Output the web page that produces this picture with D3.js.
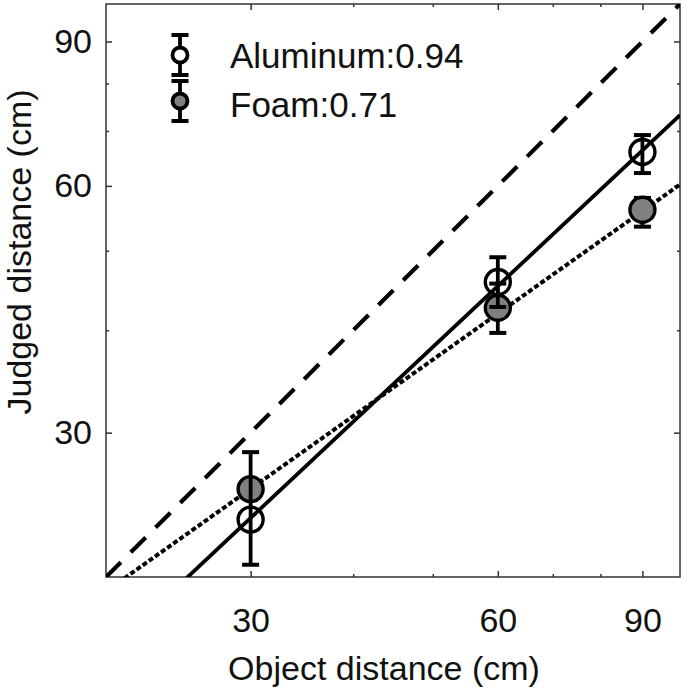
<!DOCTYPE html>
<html>
<head>
<meta charset="utf-8">
<script src="https://cdn.jsdelivr.net/npm/d3@7"></script>
<style>
  body { margin: 0; background: #fff; }
  text { font-family: "Liberation Sans", Arial, sans-serif; fill: #111; }
</style>
</head>
<body>
<script>
// Data
var objectDistance = [30, 60, 90];
var aluminumMean = [23.5, 45.8, 66.0];
var aluminumLow = [20.7, 42.7, 62.2];
var aluminumHigh = [28.4, 49.1, 69.2];
var foamMean = [25.6, 42.6, 56.1];
var foamLow = [25.0, 39.7, 53.5];
var foamHigh = [26.2, 45.6, 58.0];

// power-law fits: judged = coef * object ^ exponent
var seriesNames = ["Aluminum", "Foam"];
var fitExponent = [0.94, 0.71];
var fitCoef = [0.965, 2.29];

var majorTicks = [30, 60, 90];
var minorTicks = [40, 50, 70, 80];
var axisDomain = [20, 100];

var W = 685, H = 695;
var plotLeft = 106, plotRight = 680, plotTop = 4, plotBottom = 577;

var svg = d3.select("body").append("svg")
  .attr("width", W)
  .attr("height", H);

var x = d3.scaleLog().domain(axisDomain).range([plotLeft, plotRight]);
var y = d3.scaleLog().domain(axisDomain).range([plotBottom, plotTop]);

svg.append("clipPath").attr("id", "plot-clip")
  .append("rect")
  .attr("x", plotLeft).attr("y", plotTop)
  .attr("width", plotRight - plotLeft).attr("height", plotBottom - plotTop);

// Axes: major ticks with labels, minor ticks without, ticks pointing inward
function styleAxis(g) {
  g.select(".domain").remove();
  g.selectAll(".tick line").attr("stroke", "#333").attr("stroke-width", 1.5);
  g.selectAll("text").style("font-size", "34px").attr("fill", "#111");
}

svg.append("g")
  .attr("transform", "translate(0," + plotBottom + ")")
  .call(d3.axisBottom(x).tickValues(majorTicks).tickFormat(d3.format("d")).tickSizeInner(-6).tickSizeOuter(0).tickPadding(31))
  .call(styleAxis);
svg.append("g")
  .attr("transform", "translate(" + plotLeft + ",0)")
  .call(d3.axisLeft(y).tickValues(majorTicks).tickFormat(d3.format("d")).tickSizeInner(-6).tickSizeOuter(0).tickPadding(14))
  .call(styleAxis);
svg.append("g")
  .attr("transform", "translate(0," + plotTop + ")")
  .call(d3.axisTop(x).tickValues(majorTicks).tickFormat("").tickSizeInner(-6).tickSizeOuter(0))
  .call(styleAxis);
svg.append("g")
  .attr("transform", "translate(" + plotRight + ",0)")
  .call(d3.axisRight(y).tickValues(majorTicks).tickFormat("").tickSizeInner(-6).tickSizeOuter(0))
  .call(styleAxis);

[[d3.axisBottom(x), plotBottom, true], [d3.axisTop(x), plotTop, true],
 [d3.axisLeft(y), plotLeft, false], [d3.axisRight(y), plotRight, false]].forEach(function (a) {
  svg.append("g")
    .attr("transform", a[2] ? "translate(0," + a[1] + ")" : "translate(" + a[1] + ",0)")
    .call(a[0].tickValues(minorTicks).tickFormat("").tickSizeInner(-3).tickSizeOuter(0))
    .call(styleAxis);
});

// Frame
svg.append("rect")
  .attr("x", plotLeft).attr("y", plotTop)
  .attr("width", plotRight - plotLeft).attr("height", plotBottom - plotTop)
  .attr("fill", "none")
  .attr("stroke", "#333")
  .attr("stroke-width", 1.5);

// Axis titles
svg.append("text")
  .attr("x", 384)
  .attr("y", 680)
  .attr("text-anchor", "middle")
  .style("font-size", "34px")
  .text("Object distance (cm)");

svg.append("text")
  .attr("transform", "translate(31,252) rotate(-90)")
  .attr("text-anchor", "middle")
  .style("font-size", "34px")
  .text("Judged distance (cm)");

// Lines
var lineGen = d3.line().x(function (d) { return x(d[0]); }).y(function (d) { return y(d[1]); });
var lines = svg.append("g").attr("clip-path", "url(#plot-clip)");

// unity line
lines.append("path")
  .attr("d", lineGen([[axisDomain[0], axisDomain[0]], [axisDomain[1], axisDomain[1]]]))
  .attr("fill", "none")
  .attr("stroke", "#000")
  .attr("stroke-width", 4.2)
  .attr("stroke-dasharray", "21,14");

var fitDash = [null, "5,2.5"];
var fitWidth = [3.8, 4];
seriesNames.forEach(function (name, i) {
  var pts = axisDomain.map(function (v) { return [v, fitCoef[i] * Math.pow(v, fitExponent[i])]; });
  lines.append("path")
    .attr("d", lineGen(pts))
    .attr("fill", "none")
    .attr("stroke", "#000")
    .attr("stroke-width", fitWidth[i])
    .attr("stroke-dasharray", fitDash[i]);
});

// Points with error bars
var series = [
  { name: "Aluminum", mean: aluminumMean, low: aluminumLow, high: aluminumHigh, fill: "#fff" },
  { name: "Foam", mean: foamMean, low: foamLow, high: foamHigh, fill: "#808080" }
];

function drawErrorBar(g, cx, y0, y1, cap) {
  g.append("line").attr("x1", cx).attr("x2", cx).attr("y1", y0).attr("y2", y1)
    .attr("stroke", "#000").attr("stroke-width", 3.8);
  [y0, y1].forEach(function (yy) {
    g.append("line").attr("x1", cx - cap / 2).attr("x2", cx + cap / 2).attr("y1", yy).attr("y2", yy)
      .attr("stroke", "#000").attr("stroke-width", 4);
  });
}

// draw foam first, aluminum on top
[1, 0].forEach(function (si) {
  var s = series[si];
  var g = svg.append("g").attr("class", "series-" + s.name);
  objectDistance.forEach(function (od, i) {
    drawErrorBar(g, x(od), y(s.high[i]), y(s.low[i]), 17);
  });
  g.selectAll("circle")
    .data(objectDistance)
    .enter().append("circle")
    .attr("cx", function (d) { return x(d); })
    .attr("cy", function (d, i) { return y(s.mean[i]); })
    .attr("r", 12.5)
    .attr("fill", s.fill)
    .attr("fill-opacity", si === 0 ? 0 : 1)
    .attr("stroke", "#000")
    .attr("stroke-width", 3.4);
});

// Legend
var legendRowY = [55, 101];
var legendTextY = [68, 117];

var legend = svg.selectAll(".legend")
  .data(series)
  .enter().append("g")
  .attr("class", "legend")
  .attr("transform", function (d, i) { return "translate(180," + legendRowY[i] + ")"; });

legend.each(function (d) {
  var g = d3.select(this);
  drawErrorBar(g, 0, -20, 20, 17);
  g.append("circle")
    .attr("r", 7.5)
    .attr("fill", d.fill)
    .attr("stroke", "#000")
    .attr("stroke-width", 3.8);
});

legend.append("text")
  .attr("x", 50)
  .attr("y", function (d, i) { return legendTextY[i] - legendRowY[i]; })
  .style("font-size", "35px")
  .text(function (d, i) { return d.name + ":" + fitExponent[i]; });
</script>
</body>
</html>
